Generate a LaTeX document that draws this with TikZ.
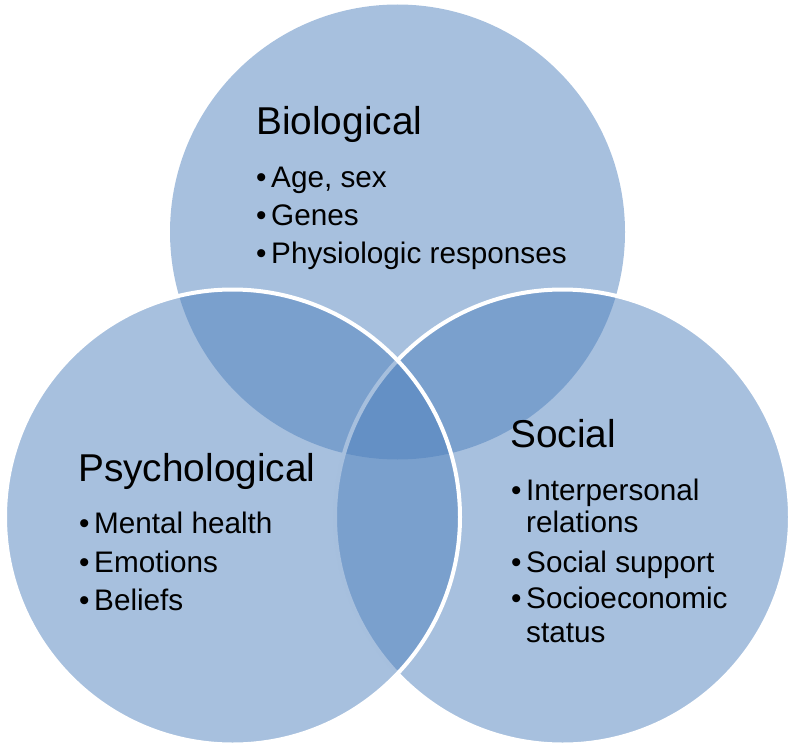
\documentclass[tikz,border=0pt]{standalone}
\usepackage{fontspec}
\setmainfont{Liberation Sans}
\definecolor{venn}{HTML}{4F81BD}
\begin{document}
\begin{tikzpicture}[x=1pt,y=-1pt,
  disk/.style={circle, inner sep=0pt, outer sep=0pt, minimum size=455pt, fill=venn, fill opacity=0.5},
  rim/.style={draw=white, draw opacity=1, line width=4pt},
  ttl/.style={anchor=base west, inner sep=0pt, font=\fontsize{38.8}{42}\selectfont},
  itm/.style={anchor=base west, inner sep=0pt, font=\fontsize{29.7}{33}\selectfont},
  bul/.style={anchor=base west, inner sep=0pt, font=\fontsize{29.7}{33}\selectfont}
]
\useasboundingbox (0,0) rectangle (794,749);
% circles
\node[disk] (bio) at (397.5,232) {};
\node[disk, rim] (soc) at (562.5,517) {};
\node[disk, rim] (psy) at (232.5,517) {};
% Biological
\node[ttl] (biot) at (256,134) {Biological};
\node[bul] (bb1) at (256,187) {•};
\node[itm] (bi1) at (271,187) {Age, sex};
\node[bul] (bb2) at (256,225) {•};
\node[itm] (bi2) at (271,225) {Genes};
\node[bul] (bb3) at (256,263) {•};
\node[itm] (bi3) at (271,263) {Physiologic responses};
% Psychological
\node[ttl] (psyt) at (78,481) {Psychological};
\node[bul] (pb1) at (79,533) {•};
\node[itm] (pi1) at (94,533) {Mental health};
\node[bul] (pb2) at (79,572) {•};
\node[itm] (pi2) at (94,572) {Emotions};
\node[bul] (pb3) at (79,610) {•};
\node[itm] (pi3) at (94,610) {Beliefs};
% Social
\node[ttl] (soct) at (510,447) {Social};
\node[bul] (sb1) at (511,500) {•};
\node[itm] (si1) at (526,500) {Interpersonal};
\node[itm] (si1b) at (526,532) {relations};
\node[bul] (sb2) at (511,572) {•};
\node[itm] (si2) at (526,572) {Social support};
\node[bul] (sb3) at (511,608) {•};
\node[itm] (si3) at (526,608) {Socioeconomic};
\node[itm] (si3b) at (526,642) {status};
\end{tikzpicture}
\end{document}
